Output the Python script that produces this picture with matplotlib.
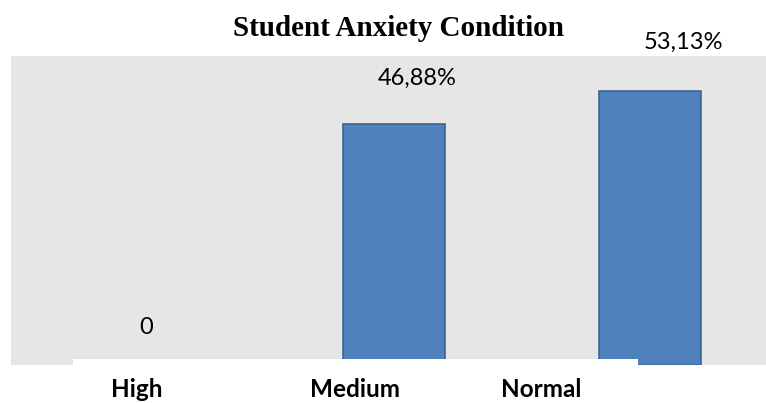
import matplotlib
matplotlib.use('Agg')
import matplotlib.pyplot as plt
from matplotlib.patches import Rectangle

categories = ['High', 'Medium', 'Normal']
values = [0, 46.88, 53.13]
value_labels = ['0', '46,88%', '53,13%']

# label positions (data coords)
label_x = [0.03, 1.09, 2.13]
label_y = [7.2, 55.7, 62.6]
# category label centres in figure pixels
tick_px = [137, 355, 541]

W, H = 766, 403
fig = plt.figure(figsize=(W / 100, H / 100), dpi=100)
ax = fig.add_axes([11 / W, (H - 365) / H, 755 / W, (365 - 56) / H])
ax.set_facecolor('#e6e6e6')

ax.bar(range(len(values)), values, width=0.4, color='#4f81bd',
       edgecolor='#3b6592', linewidth=1.2)

for x, y, t in zip(label_x, label_y, value_labels):
    ax.text(x, y, t, ha='center', va='center', fontsize=17,
            family='Lato', color='#000000', clip_on=False)

ax.set_xlim(-0.5, 2.454)
ax.set_ylim(0, 60)
ax.set_xticks([])
ax.set_yticks([])
for s in ax.spines.values():
    s.set_visible(False)

# white box over the bottom of the plot area
fig.patches.append(Rectangle((73 / W, 0), (638 - 73) / W, (H - 359) / H,
                             transform=fig.transFigure, facecolor='white',
                             edgecolor='none', zorder=5))

for px, c in zip(tick_px, categories):
    fig.text(px / W, (H - 397) / H, c, ha='center', va='baseline',
             fontsize=17.5, fontweight='bold', family='Lato', zorder=6)

fig.text(398 / W, (H - 29) / H, 'Student Anxiety Condition', ha='center',
         va='center', fontsize=21, fontweight='bold', family='Liberation Serif')

fig.savefig('out.png', dpi=100)
